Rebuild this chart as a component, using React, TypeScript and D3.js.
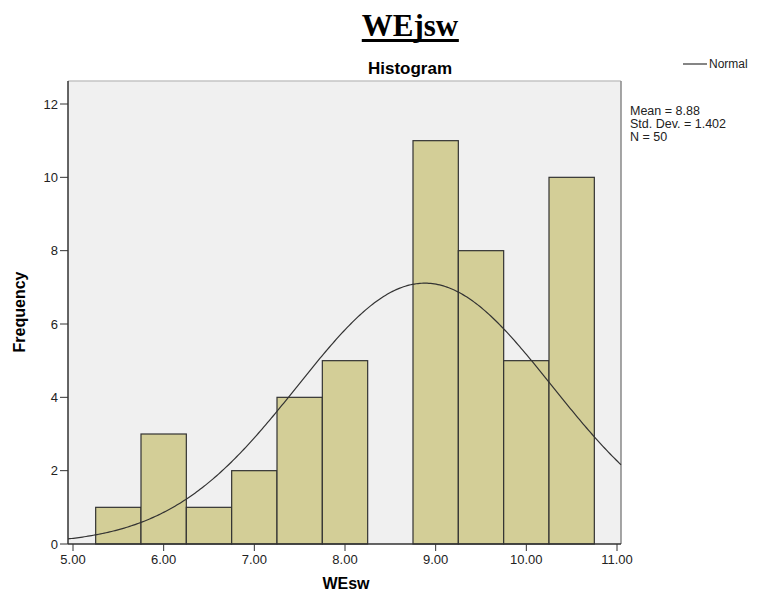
import React, { useEffect, useRef } from 'react';
import * as d3 from 'd3';

// histogram bins (lower edge) and counts
const binStarts = [5.25, 5.75, 6.25, 6.75, 7.25, 7.75, 8.25, 8.75, 9.25, 9.75, 10.25];
const binWidth = 0.5;
const counts = [1, 3, 1, 2, 4, 5, 0, 11, 8, 5, 10];

const xTicks = [5, 6, 7, 8, 9, 10, 11];
const yTicks = [0, 2, 4, 6, 8, 10, 12];

// stats shown in the legend
const mean = 8.88;
const stdDev = 1.402;
const n = 50;

const W = 757;
const H = 595;

const App = () => {
  const svgRef = useRef<SVGSVGElement>(null);

  useEffect(() => {
    const svg = d3.select(svgRef.current);
    svg.selectAll('*').remove();

    const panel = { left: 68, right: 621, top: 81, bottom: 544 };
    const font = '"Liberation Sans", Arial, sans-serif';

    const x = d3.scaleLinear().domain([5, 11]).range([73, 617]);
    const y = d3.scaleLinear().domain([0, 12]).range([544, 104]);

    // titles
    const title = svg.append('text')
      .attr('x', 410).attr('y', 36)
      .attr('text-anchor', 'middle')
      .style('font-family', '"Liberation Serif", "Times New Roman", serif')
      .style('font-weight', 'bold')
      .style('font-size', '31px')
      .text('WEjsw');
    const tb = (title.node() as SVGTextElement).getBBox();
    svg.append('rect')
      .attr('x', tb.x).attr('y', 39)
      .attr('width', tb.width).attr('height', 3)
      .attr('fill', '#000');

    svg.append('text')
      .attr('x', 410).attr('y', 74)
      .attr('text-anchor', 'middle')
      .style('font-family', font)
      .style('font-weight', 'bold')
      .style('font-size', '17px')
      .text('Histogram');

    // plot panel
    svg.append('rect')
      .attr('x', panel.left).attr('y', panel.top)
      .attr('width', panel.right - panel.left)
      .attr('height', panel.bottom - panel.top)
      .attr('fill', '#f0f0f0');
    svg.append('line')
      .attr('x1', panel.left).attr('x2', panel.right)
      .attr('y1', panel.top).attr('y2', panel.top)
      .attr('stroke', '#c4c4c4').attr('stroke-width', 1.5);
    svg.append('line')
      .attr('x1', panel.right).attr('x2', panel.right)
      .attr('y1', panel.top).attr('y2', panel.bottom)
      .attr('stroke', '#888').attr('stroke-width', 1.5);

    // bars
    svg.append('g')
      .selectAll('rect')
      .data(binStarts)
      .join('rect')
      .attr('x', d => x(d))
      .attr('y', (d, i) => y(counts[i]))
      .attr('width', d => x(d + binWidth) - x(d))
      .attr('height', (d, i) => y(0) - y(counts[i]))
      .attr('fill', '#d3ce97')
      .attr('stroke', '#333')
      .attr('stroke-width', 1.2)
      .style('display', (d, i) => (counts[i] === 0 ? 'none' : null));

    // normal curve for the stated mean / sd, scaled to N * bin width
    const peak = (n * binWidth) / (stdDev * Math.sqrt(2 * Math.PI));
    const xs = d3.range(x.invert(panel.left), x.invert(panel.right), 0.02).concat([x.invert(panel.right)]);
    const line = d3.line<number>()
      .x(d => x(d))
      .y(d => y(peak * Math.exp(-0.5 * ((d - mean) / stdDev) ** 2)));
    svg.append('path')
      .datum(xs)
      .attr('d', line)
      .attr('fill', 'none')
      .attr('stroke', '#333')
      .attr('stroke-width', 1.2);

    // axes lines
    svg.append('line')
      .attr('x1', panel.left).attr('x2', panel.left)
      .attr('y1', panel.top).attr('y2', panel.bottom)
      .attr('stroke', '#333').attr('stroke-width', 1.5);
    svg.append('line')
      .attr('x1', panel.left).attr('x2', panel.right)
      .attr('y1', panel.bottom).attr('y2', panel.bottom)
      .attr('stroke', '#333').attr('stroke-width', 1.5);

    // y ticks
    const yg = svg.append('g');
    yTicks.forEach(t => {
      yg.append('line')
        .attr('x1', panel.left - 8).attr('x2', panel.left)
        .attr('y1', y(t)).attr('y2', y(t))
        .attr('stroke', '#333');
      yg.append('text')
        .attr('x', panel.left - 10).attr('y', y(t) + 4.5)
        .attr('text-anchor', 'end')
        .style('font-family', font)
        .style('font-size', '13px')
        .attr('fill', '#222')
        .text(t);
    });

    // x ticks
    const xg = svg.append('g');
    xTicks.forEach(t => {
      xg.append('line')
        .attr('x1', x(t)).attr('x2', x(t))
        .attr('y1', panel.bottom).attr('y2', panel.bottom + 7)
        .attr('stroke', '#333');
      xg.append('text')
        .attr('x', x(t)).attr('y', panel.bottom + 20)
        .attr('text-anchor', 'middle')
        .style('font-family', font)
        .style('font-size', '13px')
        .attr('fill', '#222')
        .text(d3.format('.2f')(t));
    });

    // axis titles
    svg.append('text')
      .attr('transform', `translate(25,312) rotate(-90)`)
      .attr('text-anchor', 'middle')
      .style('font-family', font)
      .style('font-weight', 'bold')
      .style('font-size', '16px')
      .text('Frequency');

    svg.append('text')
      .attr('x', 346).attr('y', 589)
      .attr('text-anchor', 'middle')
      .style('font-family', font)
      .style('font-weight', 'bold')
      .style('font-size', '16px')
      .text('WEsw');

    // legend
    svg.append('line')
      .attr('x1', 683).attr('x2', 707)
      .attr('y1', 64).attr('y2', 64)
      .attr('stroke', '#333').attr('stroke-width', 1.2);
    svg.append('text')
      .attr('x', 709).attr('y', 68)
      .style('font-family', font)
      .style('font-size', '12px')
      .attr('fill', '#222')
      .text('Normal');

    const stats = [`Mean = ${mean}`, `Std. Dev. = ${stdDev}`, `N = ${n}`];
    stats.forEach((s, i) => {
      svg.append('text')
        .attr('x', 630).attr('y', 115 + i * 13)
        .style('font-family', font)
        .style('font-size', '12.5px')
        .attr('fill', '#222')
        .text(s);
    });
  }, []);

  return (
    <svg
      ref={svgRef}
      width={W}
      height={H}
      style={{ position: 'absolute', left: 0, top: 0, background: '#fff' }}
    />
  );
};

export default App;
